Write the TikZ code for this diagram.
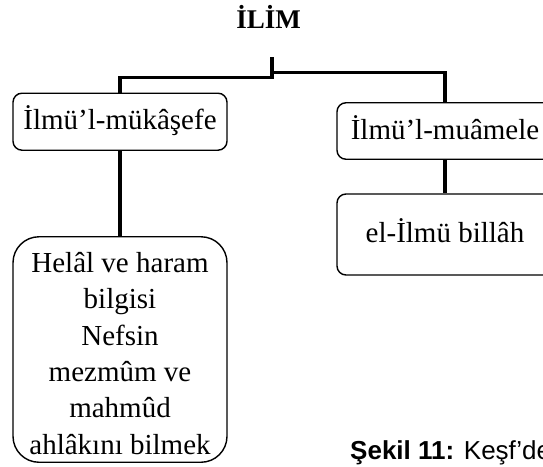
\documentclass[tikz,border=0pt]{standalone}
\usepackage{fontspec}
\setmainfont{Liberation Serif}
\newfontfamily\capfont{Liberation Sans}
\begin{document}
\begin{tikzpicture}[x=1pt,y=1pt,
  box/.style={draw=black, line width=1.4pt, rounded corners=9pt, inner sep=0pt,
    font=\fontsize{29}{36.4}\selectfont, text height=21pt, text depth=4.5pt},
  bigbox/.style={draw=black, line width=1.4pt, rounded corners=26pt, inner sep=0pt,
    font=\fontsize{29}{36.4}\selectfont, align=center},
  conn/.style={draw=black, line width=3.3pt}]
\useasboundingbox (0,0) rectangle (543,-466);
% title
\node[anchor=base, font=\fontsize{27}{32}\selectfont\bfseries, inner sep=0pt] (ilim) at (268.5,-28) {İLİM};
% boxes
\node[box, minimum width=214pt, minimum height=57pt] (b1) at (120,-121.7) {İlmü’l-mükâşefe};
\node[box, minimum width=216pt, minimum height=56.5pt] (b2) at (445,-131) {İlmü’l-muâmele};
\node[box, minimum width=216pt, minimum height=81pt] (b3) at (445,-234.5) {el-İlmü billâh};
\node[bigbox, minimum width=214pt, minimum height=225.5pt] (b4) at (120,-349.5)
  {\rule{0pt}{28pt}Helâl ve haram\\bilgisi\\Nefsin\\mezmûm ve\\mahmûd\\ahlâkını bilmek};
% connectors
\coordinate (jn) at (272,-57);
\coordinate (jl) at (272,-77.5);
\coordinate (jr) at (272,-72.5);
\draw[conn] (jn) -- (jl) -| (b1.north);
\draw[conn] (jr) -| (b2.north);
\draw[conn] (b1.south) -- (b4.north);
\draw[conn] (b2.south) -- (b3.north);
% caption
\node[anchor=base west, inner sep=0pt, font=\capfont\fontsize{26}{30}\selectfont] (cap) at (350,-459) {\textbf{Şekil 11:} Keşf’de};
\end{tikzpicture}
\end{document}
